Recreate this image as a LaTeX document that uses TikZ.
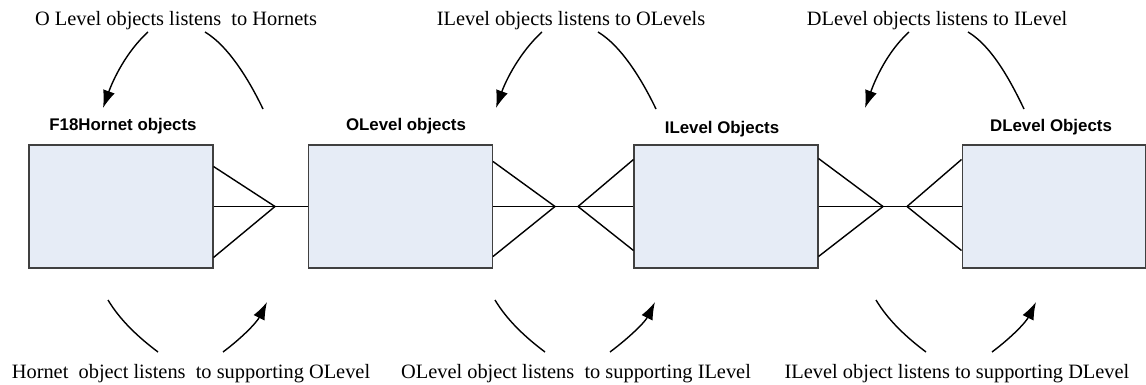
\documentclass[tikz,border=0pt]{standalone}
\usepackage{fontspec}
\setmainfont{Liberation Serif}
\setsansfont{Liberation Sans}
\usetikzlibrary{arrows.meta,positioning,calc}
\definecolor{boxfill}{RGB}{230,236,246}

\tikzset{
  obox/.style={draw=black!75, fill=boxfill, line width=0.6pt, minimum width=3.68cm, minimum height=2.46cm, inner sep=0pt},
  olabel/.style={font=\sffamily\bfseries\fontsize{9.6}{11}\selectfont, inner sep=0pt, anchor=base},
  note/.style={font=\fontsize{11.6}{13}\selectfont, inner sep=0pt, anchor=base},
  foot/.style={line width=0.8pt},
  listen/.style={line width=0.8pt},
  listento/.style={line width=0.8pt, -{Latex[length=10pt,width=7pt]}},
}

\begin{document}
\begin{tikzpicture}[x=0.02cm,y=-0.02cm]
            \useasboundingbox (0,0) rectangle (1146,385);
            % object boxes
            \node[obox] (F18) at (121,206.5) {};
            \node[obox] (OL) at (400.5,206.5) {};
            \node[obox] (IL) at (726,206.5) {};
            \node[obox] (DL) at (1054,206.5) {};
            \node[olabel] (F18t) at (123,131) {F18Hornet objects};
            \node[olabel] (OLt) at (406,131) {OLevel objects};
            \node[olabel] (ILt) at (722,133) {ILevel Objects};
            \node[olabel] (DLt) at (1051,132) {DLevel Objects};
            % crow feet
            \coordinate (f1) at (275,206.5);
            \coordinate (f2) at (555,206.5);
            \coordinate (f3) at (578,206.5);
            \coordinate (f4) at (883,206.5);
            \coordinate (f5) at (907,206.5);
            \draw[foot] (F18.east) -- (OL.west);
            \draw[foot] (OL.east) -- (IL.west);
            \draw[foot] (IL.east) -- (DL.west);
            \draw[foot] ($(F18.east)+(0,-40)$) -- (f1) -- ($(F18.east)+(0,51)$);
            \draw[foot] ($(OL.east)+(0,-45)$) -- (f2) -- ($(OL.east)+(0,50)$);
            \draw[foot] ($(IL.west)+(0,-47)$) -- (f3) -- ($(IL.west)+(0,44)$);
            \draw[foot] ($(IL.east)+(0,-48)$) -- (f4) -- ($(IL.east)+(0,50)$);
            \draw[foot] ($(DL.west)+(0,-47)$) -- (f5) -- ($(DL.west)+(0,44)$);
            % top notes
            \node[note] (top1) at (176,26) {O Level objects listens~ to Hornets};
            \node[note] (top2) at (571,26) {ILevel objects listens to OLevels};
            \node[note] (top3) at (937,26) {DLevel objects listens to ILevel};
            \coordinate (t1a) at (148,32);  \coordinate (t1b) at (103,108);
            \coordinate (t1c) at (205,32);  \coordinate (t1d) at (263,109);
            \coordinate (t2a) at (542,32);  \coordinate (t2b) at (496,108);
            \coordinate (t2c) at (598,32);  \coordinate (t2d) at (656,109);
            \coordinate (t3a) at (909,32);  \coordinate (t3b) at (865,108);
            \coordinate (t3c) at (968,32);  \coordinate (t3d) at (1024,109);
            \draw[listento] (t1a) .. controls +(-22,20) and +(10,-28) .. (t1b);
            \draw[listen] (t1c) .. controls +(25,15) and +(-12,-25) .. (t1d);
            \draw[listento] (t2a) .. controls +(-22,20) and +(10,-28) .. (t2b);
            \draw[listen] (t2c) .. controls +(25,15) and +(-12,-25) .. (t2d);
            \draw[listento] (t3a) .. controls +(-22,20) and +(10,-28) .. (t3b);
            \draw[listen] (t3c) .. controls +(25,15) and +(-12,-25) .. (t3d);
            % bottom notes
            \node[note] (bot1) at (191,378) {Hornet~ object listens~ to supporting OLevel};
            \node[note] (bot2) at (576,378) {OLevel object listens~ to supporting ILevel};
            \node[note] (bot3) at (957,378) {ILevel object listens to supporting DLevel};
            \coordinate (b1a) at (108,300); \coordinate (b1b) at (158,352);
            \coordinate (b1c) at (223,352); \coordinate (b1d) at (267,302);
            \coordinate (b2a) at (495,300); \coordinate (b2b) at (545,352);
            \coordinate (b2c) at (610,352); \coordinate (b2d) at (655,302);
            \coordinate (b3a) at (876,300); \coordinate (b3b) at (926,352);
            \coordinate (b3c) at (992,352); \coordinate (b3d) at (1036,302);
            \draw[listen] (b1a) .. controls +(12,20) and +(-20,-15) .. (b1b);
            \draw[listento] (b1c) .. controls +(20,-15) and +(-10,20) .. (b1d);
            \draw[listen] (b2a) .. controls +(12,20) and +(-20,-15) .. (b2b);
            \draw[listento] (b2c) .. controls +(20,-15) and +(-10,20) .. (b2d);
            \draw[listen] (b3a) .. controls +(12,20) and +(-20,-15) .. (b3b);
            \draw[listento] (b3c) .. controls +(20,-15) and +(-10,20) .. (b3d);
\end{tikzpicture}
\end{document}
